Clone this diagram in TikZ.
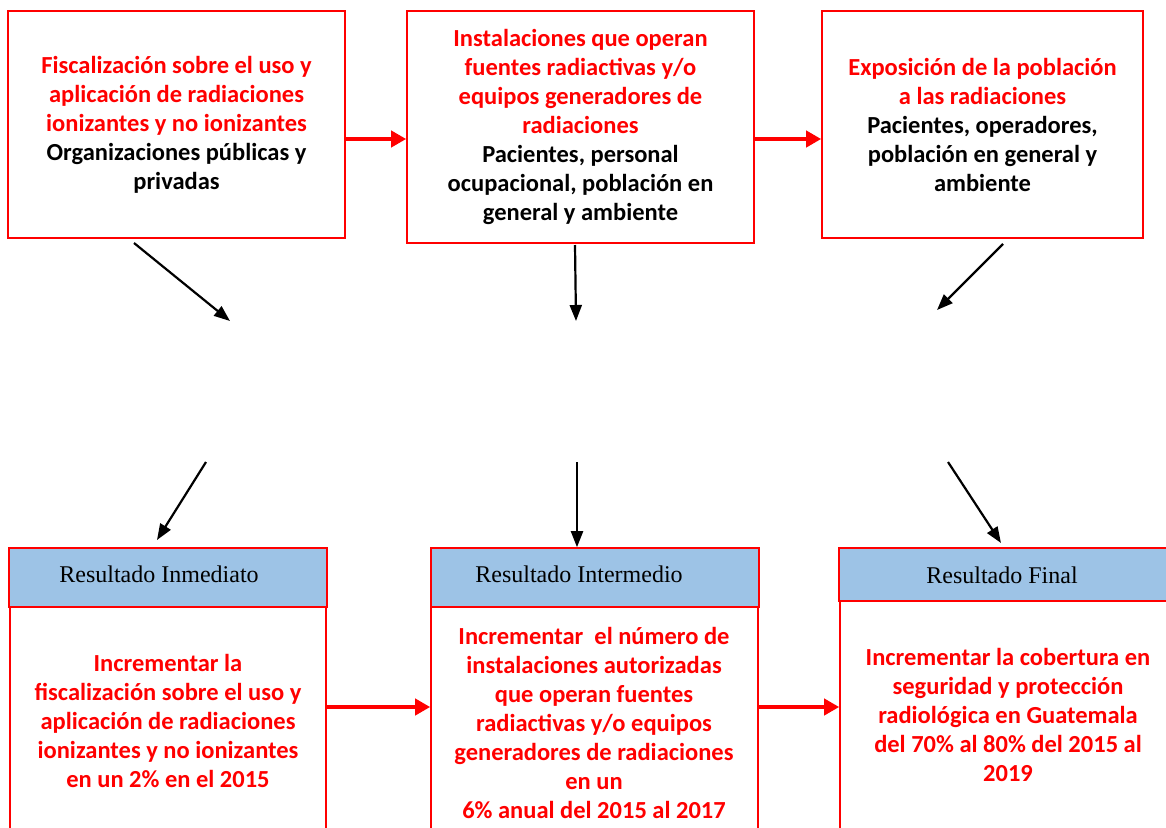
\documentclass[tikz,border=0pt]{standalone}
\usepackage{fontspec}
\setmainfont{Carlito}
\newfontfamily\hdrfont{Liberation Serif}
\usetikzlibrary{arrows.meta}
\definecolor{hdrblue}{RGB}{157,195,230}
\tikzset{
  topbox/.style={draw=red, line width=1.6pt, rectangle, inner sep=0pt, align=center,
    font=\fontsize{24.5}{29}\selectfont\bfseries},
  hdrbox/.style={draw=red, line width=1.6pt, fill=hdrblue, rectangle, inner sep=0pt},
  bodybox/.style={draw=red, line width=1.6pt, rectangle, inner sep=0pt},
  hdrtext/.style={font=\hdrfont\fontsize{24}{26}\selectfont, inner sep=0pt},
  bodytext/.style={align=center, text=red, inner sep=0pt, font=\fontsize{24.5}{29}\selectfont\bfseries},
  redarrow/.style={draw=red, line width=4.5pt, -{Triangle[length=15pt,width=16pt]}},
  blkarrow/.style={draw=black, line width=2.2pt, -{Triangle[length=16pt,width=12pt]}}
}
\begin{document}
\begin{tikzpicture}[x=1pt,y=-1pt]
\useasboundingbox (0,0) rectangle (1166,827);
\clip (0,0) rectangle (1166,827);
% top boxes
\node[topbox, minimum width=337pt, minimum height=227pt] (b1) at (176.5,124.5)
 {\textcolor{red}{Fiscalización sobre el uso y}\\
  \textcolor{red}{aplicación de radiaciones}\\
  \textcolor{red}{ionizantes y no ionizantes}\\
  Organizaciones públicas y\\
  privadas};
\node[topbox, minimum width=347pt, minimum height=232pt] (b2) at (580.5,127)
 {\textcolor{red}{Instalaciones que operan}\\
  \textcolor{red}{fuentes radiactivas y/o}\\
  \textcolor{red}{equipos generadores de}\\
  \textcolor{red}{radiaciones}\\
  Pacientes, personal\\
  ocupacional, población en\\
  general y ambiente};
\node[topbox, minimum width=321pt, minimum height=227pt] (b3) at (982.5,124.5)
 {\textcolor{red}{Exposición de la población}\\
  \textcolor{red}{a las radiaciones}\\
  Pacientes, operadores,\\
  población en general y\\
  ambiente};
% bottom boxes
\node[hdrbox, minimum width=318pt, minimum height=59pt] (h1) at (168,577.5) {};
\node[bodybox, minimum width=316pt, minimum height=300pt] (d1) at (168,757) {};
\node[hdrbox, minimum width=328pt, minimum height=59pt] (h2) at (595,577.5) {};
\node[bodybox, minimum width=327pt, minimum height=300pt] (d2) at (594.5,757) {};
\node[hdrbox, minimum width=340pt, minimum height=53pt] (h3) at (1009,574.5) {};
\node[bodybox, minimum width=340pt, minimum height=300pt] (d3) at (1010,751) {};
\node[hdrtext] (t1) at (159,574) {Resultado Inmediato};
\node[hdrtext] (t2) at (579,574) {Resultado Intermedio};
\node[hdrtext] (t3) at (1002,575) {Resultado Final};
\node[bodytext] (x1) at (168,721)
 {Incrementar la\\ fiscalización sobre el uso y\\ aplicación de radiaciones\\ ionizantes y no ionizantes\\ en un 2\% en el 2015};
\node[bodytext] (x2) at (594,723)
 {Incrementar\ \ el número de\\ instalaciones autorizadas\\ que operan fuentes\\ radiactivas y/o equipos\\ generadores de radiaciones\\ en un\\ 6\% anual del 2015 al 2017};
\node[bodytext] (x3) at (1008,715)
 {Incrementar la cobertura en\\ seguridad y protección\\ radiológica en Guatemala\\ del 70\% al 80\% del 2015 al\\ 2019};
% coordinates
\coordinate (ya) at (0,139);
\coordinate (yb) at (0,707);
\coordinate (s1) at (134,243);
\coordinate (e1) at (230,321);
\coordinate (s2) at (575,245);
\coordinate (e2) at (576,321);
\coordinate (s3) at (1003,244);
\coordinate (e3) at (937,310);
\coordinate (s4) at (206,462);
\coordinate (s5) at (577,462);
\coordinate (s6) at (948,462);
\coordinate (e4) at (157,540);
\coordinate (e6) at (1001,543);
% red arrows
\draw[redarrow] (b1.east |- ya) -- (b2.west |- ya);
\draw[redarrow] (b2.east |- ya) -- (b3.west |- ya);
\draw[redarrow] (d1.east |- yb) -- (d2.west |- yb);
\draw[redarrow] (d2.east |- yb) -- (d3.west |- yb);
% black arrows
\draw[blkarrow] (s1) -- (e1);
\draw[blkarrow] (s2) -- (e2);
\draw[blkarrow] (s3) -- (e3);
\draw[blkarrow] (s4) -- (e4);
\draw[blkarrow] (s5) -- (s5 |- h2.north);
\draw[blkarrow] (s6) -- (e6);
\end{tikzpicture}
\end{document}
